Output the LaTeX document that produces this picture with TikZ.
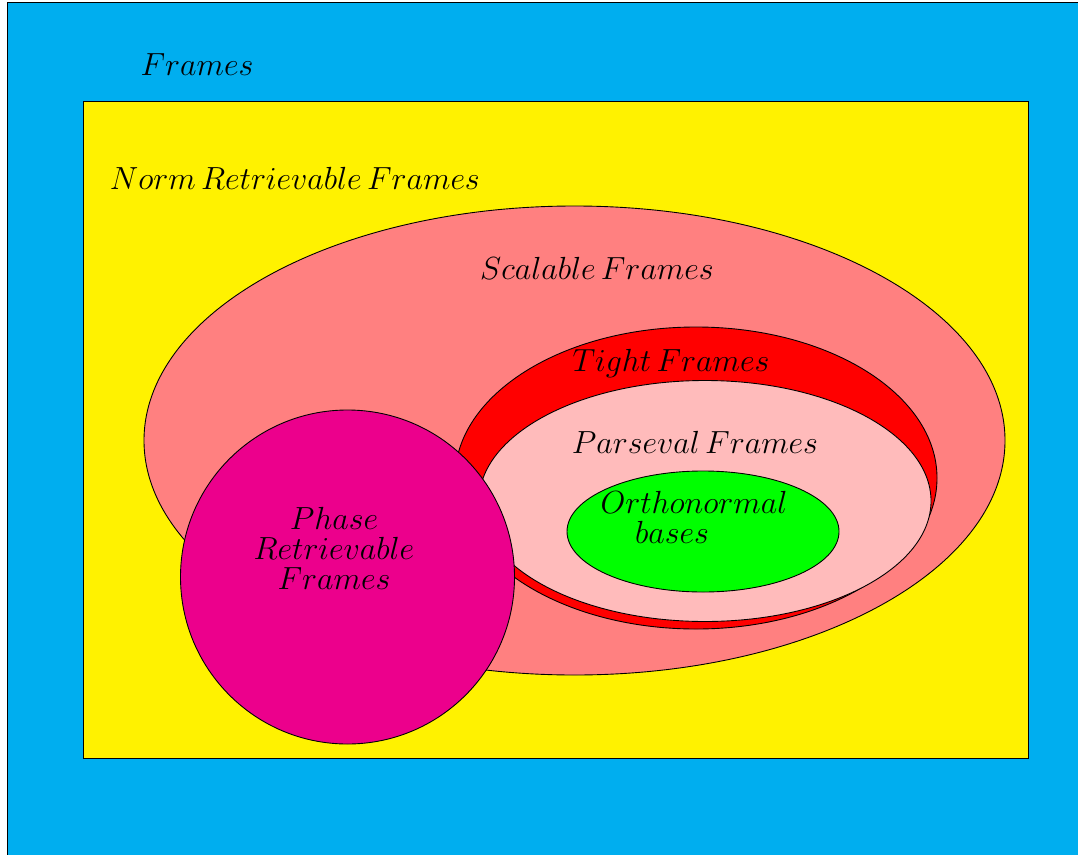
\documentclass[tikz,border=0pt]{standalone}
\usepackage{amsmath,amssymb}
\usepackage{tikz}
\usepackage{xcolor}

\definecolor{frameblue}{RGB}{0,174,239}
\definecolor{normyellow}{RGB}{255,242,0}
\definecolor{scalred}{RGB}{255,128,128}
\definecolor{tightred}{RGB}{255,0,0}
\definecolor{parspink}{RGB}{255,187,187}
\definecolor{onbgreen}{RGB}{0,255,0}
\definecolor{phasemag}{RGB}{236,0,140}

\tikzset{
  region/.style={draw=black,line width=0.4pt},
  setlabel/.style={font=\Large,inner sep=0pt,align=center}
}

\begin{document}
\begin{tikzpicture}[x=0.45pt,y=-0.45pt]
\useasboundingbox (0,0) rectangle (1078,854);
% the sets, from the largest inwards
\draw[region,fill=frameblue] (7,2) rectangle (1120,900);
\draw[region,fill=normyellow] (83,101) rectangle (1028,758);
\draw[region,fill=scalred] (574.5,440.5) ellipse [x radius=430.5,y radius=234.5];
\draw[region,fill=tightred] (696,478) ellipse [x radius=241,y radius=151];
\draw[region,fill=parspink] (705,501) ellipse [x radius=226,y radius=120.5];
\draw[region,fill=onbgreen] (703,531.5) ellipse [x radius=136,y radius=60.5];
\draw[region,fill=phasemag] (347.5,577) circle [radius=167];
% labels
\node[setlabel] (fr) at (197,65) {$Frames$};
\node[setlabel] (nrf) at (295,178) {$Norm\,Retrievable\,Frames$};
\node[setlabel] (sf) at (597,268) {$Scalable\,Frames$};
\node[setlabel] (tf) at (671,363) {$Tight\,Frames$};
\node[setlabel] (pf) at (695,442) {$Parseval\,Frames$};
\node[setlabel,align=left] (onb) at (694,517) {$Orthonormal$\\[-4.5pt]\hspace*{15.5pt}$bases$};
\node[setlabel] (prf) at (334,548) {$Phase$\\[-4.5pt]$Retrievable$\\[-4.5pt]$Frames$};
\end{tikzpicture}
\end{document}
